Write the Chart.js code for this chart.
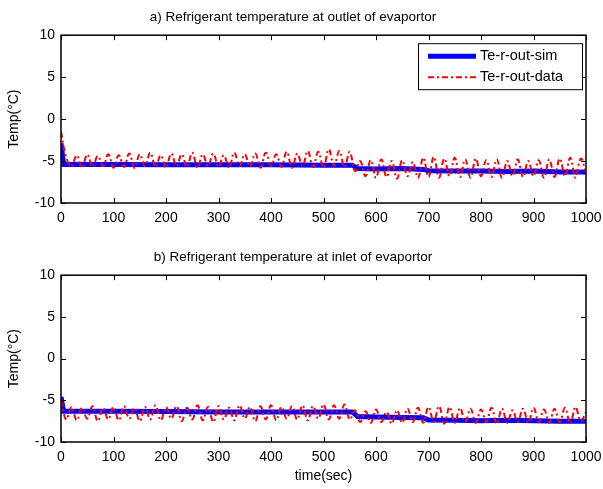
<!DOCTYPE html>
<html>
<head>
<meta charset="utf-8">
<script src="https://cdn.jsdelivr.net/npm/chart.js@4"></script>
<style>
  body { margin: 0; background: #fff; }
  canvas { display: block; }
</style>
</head>
<body>
<canvas id="topChart" width="603" height="240"></canvas>
<canvas id="bottomChart" width="603" height="249"></canvas>
<script>
// time axis of the measured data (10 s steps)
var dataTimes = [];
for (var t = 0; t <= 1000; t += 10) dataTimes.push(t);

// outlet of evaporator
var outletData = [-1.5, -4.6, -5.6, -4.3, -5.8, -4.2, -5.7, -4.4, -5.6, -4.2,
  -5.8, -4.3, -5.7, -4.1, -5.8, -4.2, -5.6, -4.0, -5.7, -4.3,
  -5.8, -4.1, -5.6, -4.2, -5.7, -4.0, -5.8, -4.2, -5.6, -4.1,
  -5.7, -4.3, -5.8, -4.0, -5.6, -4.2, -5.7, -4.1, -5.8, -4.0,
  -5.6, -4.2, -5.7, -3.9, -5.8, -4.1, -5.6, -3.8, -5.7, -3.9,
  -5.8, -3.6, -5.6, -3.8, -5.7, -3.9, -6.2, -5.0, -6.8, -4.9,
  -7.0, -4.8, -6.9, -5.0, -7.1, -4.9, -6.8, -5.1, -7.0, -4.6,
  -6.9, -4.5, -7.0, -4.7, -6.8, -4.6, -6.9, -4.8, -7.0, -4.7,
  -6.8, -4.9, -6.9, -4.8, -7.0, -5.0, -6.8, -4.8, -6.9, -5.0,
  -6.8, -4.9, -7.0, -4.8, -6.9, -4.7, -6.8, -4.6, -7.0, -4.7, -6.4];

// inlet of evaporator
var inletData = [-5.0, -7.3, -5.8, -7.4, -5.9, -7.2, -5.7, -7.5, -5.9, -7.3,
  -5.8, -7.4, -5.7, -7.2, -5.9, -7.5, -5.8, -7.3, -5.6, -7.4,
  -5.8, -7.2, -5.7, -7.5, -5.9, -7.3, -5.6, -7.4, -5.8, -7.6,
  -5.7, -7.3, -5.9, -7.4, -5.6, -7.2, -5.8, -7.5, -5.7, -7.3,
  -5.6, -7.4, -5.8, -7.2, -5.7, -7.3, -5.6, -7.4, -5.7, -7.2,
  -5.5, -7.3, -5.6, -7.2, -5.5, -7.3, -6.2, -7.6, -6.3, -7.7,
  -6.1, -7.6, -6.4, -7.8, -6.2, -7.7, -6.0, -7.6, -5.9, -7.7,
  -5.8, -7.6, -5.7, -7.8, -5.8, -7.7, -5.9, -7.6, -6.0, -7.7,
  -6.1, -7.6, -5.9, -7.8, -6.0, -7.7, -6.2, -7.6, -6.0, -7.7,
  -5.9, -7.6, -6.1, -7.7, -6.0, -7.6, -5.9, -7.8, -5.8, -7.5, -6.4];

// simulation results
var simTimes  = [0, 5, 100, 200, 300, 400, 500, 555, 565, 600, 650, 690, 700, 750, 800, 850, 900, 950, 1000];
var outletSim = [-2.9, -5.4, -5.4, -5.45, -5.45, -5.45, -5.5, -5.5, -5.9, -5.95, -5.9, -6.0, -6.15, -6.2, -6.2, -6.25, -6.2, -6.3, -6.3];
var inletSim  = [-4.6, -6.3, -6.3, -6.35, -6.4, -6.4, -6.4, -6.4, -6.95, -7.0, -7.05, -7.1, -7.35, -7.4, -7.45, -7.4, -7.45, -7.5, -7.5];

var xTicks = [0, 100, 200, 300, 400, 500, 600, 700, 800, 900, 1000];
var yTicks = [-10, -5, 0, 5, 10];
var legendLabels = ['Te-r-out-sim', 'Te-r-out-data'];

var FONT = '"Liberation Sans", Arial, sans-serif';
Chart.defaults.font.family = FONT;
Chart.defaults.color = '#000';

function pts(xs, ys) {
  return xs.map(function(x, i) { return {x: x, y: ys[i]}; });
}

// matlab style box with inward ticks
var boxPlugin = {
  id: 'box',
  afterDatasetsDraw: function(chart) {
    var ctx = chart.ctx, a = chart.chartArea;
    var xs = chart.scales.x, ys = chart.scales.y;
    ctx.save();
    ctx.strokeStyle = '#000';
    ctx.lineWidth = 1;
    ctx.beginPath();
    xTicks.forEach(function(v) {
      var px = Math.round(xs.getPixelForValue(v)) + 0.5;
      ctx.moveTo(px, a.bottom); ctx.lineTo(px, a.bottom - 5);
      ctx.moveTo(px, a.top); ctx.lineTo(px, a.top + 5);
    });
    yTicks.forEach(function(v) {
      var py = Math.round(ys.getPixelForValue(v)) + 0.5;
      ctx.moveTo(a.left, py); ctx.lineTo(a.left + 5, py);
      ctx.moveTo(a.right, py); ctx.lineTo(a.right - 5, py);
    });
    ctx.stroke();
    ctx.lineWidth = 1.5;
    ctx.strokeRect(a.left, a.top, a.right - a.left, a.bottom - a.top);
    ctx.restore();
  }
};

// boxed legend in upper right
var boxLegend = {
  id: 'boxLegend',
  afterDraw: function(chart, args, opts) {
    if (!opts.show) return;
    var ctx = chart.ctx, a = chart.chartArea;
    var w = 164, h = 46;
    var x0 = a.right - 4 - w, y0 = a.top + 8;
    ctx.save();
    ctx.fillStyle = '#fff';
    ctx.fillRect(x0, y0, w, h);
    ctx.strokeStyle = '#000';
    ctx.lineWidth = 1;
    ctx.strokeRect(x0 + 0.5, y0 + 0.5, w, h);
    ctx.font = '14.5px ' + FONT;
    ctx.textBaseline = 'middle';
    ctx.fillStyle = '#000';
    chart.data.datasets.slice().sort(function(p, q) { return q.order - p.order; }).forEach(function(ds, i) {
      var y = y0 + 13 + i * 21;
      ctx.strokeStyle = ds.borderColor;
      ctx.lineWidth = ds.borderWidth;
      ctx.setLineDash(ds.borderDash || []);
      ctx.beginPath();
      ctx.moveTo(x0 + 10, y); ctx.lineTo(x0 + 58, y);
      ctx.stroke();
      ctx.setLineDash([]);
      ctx.fillText(ds.label, x0 + 62, y);
    });
    ctx.restore();
  }
};

function makeChart(id, title, dataVals, simVals, opts) {
  var ctx = document.getElementById(id).getContext('2d');
  return new Chart(ctx, {
    type: 'line',
    data: {
      datasets: [{
        label: legendLabels[1],
        data: pts(dataTimes, dataVals),
        borderColor: '#ff0000',
        borderWidth: 2,
        borderDash: [6, 3, 2, 3],
        pointRadius: 0,
        tension: 0.4,
        order: 0
      }, {
        label: legendLabels[0],
        data: pts(simTimes, simVals),
        borderColor: '#0000ff',
        borderWidth: 5,
        pointRadius: 0,
        tension: 0,
        order: 1
      }]
    },
    options: {
      responsive: false,
      animation: false,
      devicePixelRatio: 1,
      layout: { padding: { left: 0, right: 17, top: 0, bottom: 0 } },
      scales: {
        x: {
          type: 'linear',
          min: 0, max: 1000,
          afterBuildTicks: function(s) { s.ticks = xTicks.map(function(v) { return {value: v}; }); },
          afterFit: function(s) {
            s.height = opts.xHeight;
            s.paddingLeft = 0;
            s.paddingRight = 0;
          },
          grid: { display: false, drawTicks: false },
          border: { display: false },
          ticks: {
            font: { size: 14 }, padding: 7, maxRotation: 0, autoSkip: false,
            callback: function(v) { return String(v); }
          },
          title: {
            display: opts.xTitle,
            text: 'time(sec)',
            font: { size: 14 },
            padding: { top: 0, bottom: 4 }
          }
        },
        y: {
          min: -10, max: 10,
          afterBuildTicks: function(s) { s.ticks = yTicks.map(function(v) { return {value: v}; }); },
          afterFit: function(s) { s.width = 61; },
          grid: { display: false, drawTicks: false },
          border: { display: false },
          ticks: { font: { size: 14 }, padding: 6 },
          title: {
            display: true,
            text: 'Temp(°C)',
            font: { size: 14 },
            padding: { top: 6, bottom: 0 }
          }
        }
      },
      plugins: {
        legend: { display: false },
        tooltip: { enabled: false },
        title: {
          display: true,
          text: title,
          font: { size: 13.5, weight: 'normal' },
          color: '#000',
          padding: { top: 9, bottom: 10 }
        },
        boxLegend: { show: opts.legend }
      }
    },
    plugins: [boxPlugin, boxLegend]
  });
}

makeChart('topChart', 'a) Refrigerant temperature at outlet of evaportor', outletData, outletSim,
  { xHeight: 37, xTitle: false, legend: true });
makeChart('bottomChart', 'b) Refrigerant temperature at inlet of evaportor', inletData, inletSim,
  { xHeight: 47, xTitle: true, legend: false });
</script>
</body>
</html>
